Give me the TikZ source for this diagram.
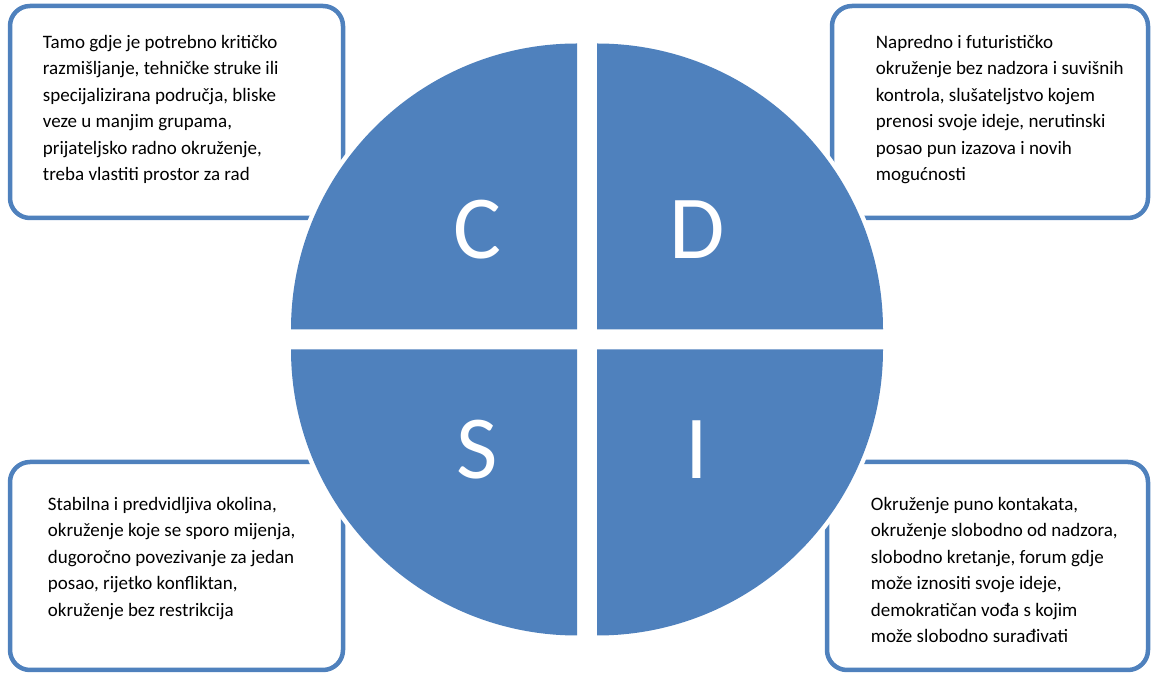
\documentclass[tikz,border=0pt]{standalone}
\usepackage{fontspec}
\setmainfont{Carlito}
\definecolor{discblue}{HTML}{4F81BD}
\begin{document}
\begin{tikzpicture}[
    x=1pt, y=1pt,
    panel/.style={draw=discblue, line width=4.5pt, rounded corners=20pt, fill=white},
    quad/.style={fill=discblue, preaction={draw=white, line width=9pt}},
    letter/.style={text=white, inner sep=0pt, font=\fontsize{90}{90}\selectfont},
    desc/.style={anchor=north west, inner sep=0pt, align=left,
                 font=\fontsize{19}{26.5}\selectfont}
]
\useasboundingbox (0,0) rectangle (1152,675);
% Corner boxes
\node[panel, minimum width=333pt, minimum height=212pt] (cbox) at (176.5,563) {};
\node[panel, minimum width=316pt, minimum height=212pt] (dbox) at (990,563) {};
\node[panel, minimum width=333pt, minimum height=208pt] (sbox) at (176.5,109) {};
\node[panel, minimum width=321pt, minimum height=208pt] (ibox) at (987.5,109) {};
% Texts
\node[desc] (ctext) at ([xshift=35pt, yshift=-31pt]cbox.north west)
      {Tamo gdje je potrebno kritičko\\ razmišljanje, tehničke struke ili\\
       specijalizirana područja, bliske\\ veze u manjim grupama,\\
       prijateljsko radno okruženje,\\ treba vlastiti prostor za rad};
\node[desc] (dtext) at ([xshift=46pt, yshift=-31pt]dbox.north west)
      {Napredno i futurističko\\ okruženje bez nadzora i suvišnih\\
       kontrola, slušateljstvo kojem\\ prenosi svoje ideje, nerutinski\\
       posao pun izazova i novih\\ mogućnosti};
\node[desc] (stext) at ([xshift=40pt, yshift=-37pt]sbox.north west)
      {Stabilna i predvidljiva okolina,\\ okruženje koje se sporo mijenja,\\
       dugoročno povezivanje za jedan\\ posao, rijetko konfliktan,\\
       okruženje bez restrikcija};
\node[desc] (itext) at ([xshift=46pt, yshift=-37pt]ibox.north west)
      {Okruženje puno kontakata,\\ okruženje slobodno od nadzora,\\
       slobodno kretanje, forum gdje\\ može iznositi svoje ideje,\\
       demokratičan vođa s kojim\\ može slobodno surađivati};
% Disc in four quarters
\coordinate (mid) at (587,335.5);
\fill[quad] ([shift={(-10,10)}]mid) -- ++(-286,0) arc[start angle=180, end angle=90, radius=286] -- cycle;
\fill[quad] ([shift={(10,10)}]mid) -- ++(0,286) arc[start angle=90, end angle=0, radius=286] -- cycle;
\fill[quad] ([shift={(-10,-10)}]mid) -- ++(0,-286) arc[start angle=270, end angle=180, radius=286] -- cycle;
\fill[quad] ([shift={(10,-10)}]mid) -- ++(286,0) arc[start angle=0, end angle=-90, radius=286] -- cycle;
\node[letter] (cl) at ([shift={(-110,110)}]mid) {C};
\node[letter] (dl) at ([shift={(110,110)}]mid) {D};
\node[letter] (sl) at ([shift={(-110,-110)}]mid) {S};
\node[letter] (il) at ([shift={(110,-110)}]mid) {I};
\end{tikzpicture}
\end{document}
